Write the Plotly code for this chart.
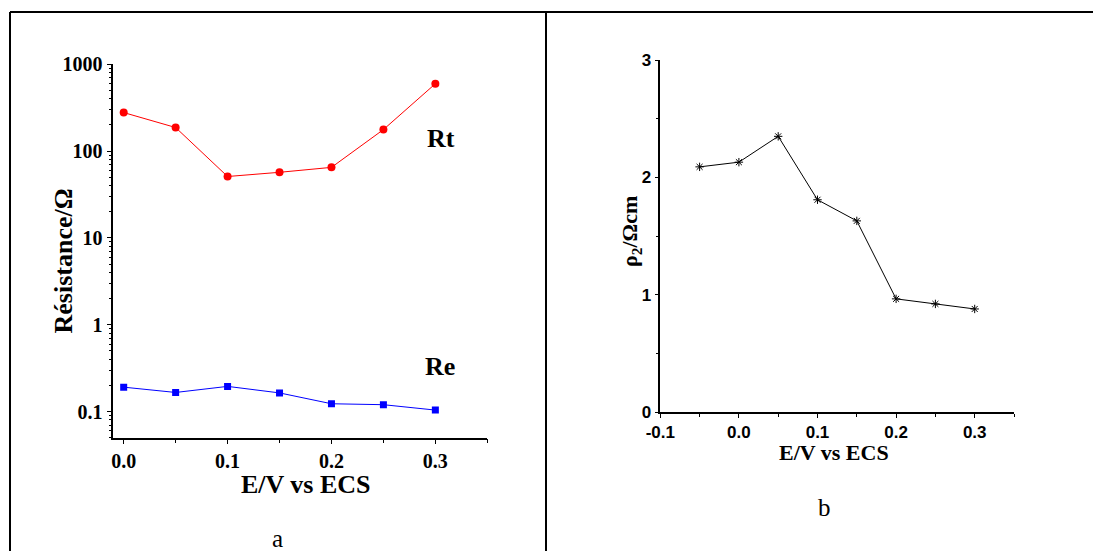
import plotly.graph_objects as go

# ---- data ----
E_a = [0.0, 0.05, 0.10, 0.15, 0.20, 0.25, 0.30]
Rt = [278, 187, 51, 57, 65, 177, 597]
Re = [0.191, 0.166, 0.195, 0.164, 0.123, 0.120, 0.104]

E_b = [-0.05, 0.0, 0.05, 0.10, 0.15, 0.20, 0.25, 0.30]
rho2 = [2.09, 2.13, 2.35, 1.81, 1.63, 0.966, 0.923, 0.88]

log_major = [0.1, 1, 10, 100, 1000]
log_major_text = ["0.1", "1", "10", "100", "1000"]

xb_ticks = [-0.1, 0.0, 0.1, 0.2, 0.3]
xb_ticktext = ["-0.1", "0.0", "0.1", "0.2", "0.3"]

W, H = 1093, 551
SERIF = "Liberation Serif"
SANS = "Liberation Sans"


def px(x):
    return x / W


def py(y):
    return 1 - y / H


log_minor = [m * 10 ** e for e in range(-2, 3) for m in range(2, 10)]
log_minor = [v for v in log_minor if 0.05 <= v <= 1000]

fig = go.Figure()

fig.add_trace(go.Scatter(
    x=E_a, y=Rt, mode="lines+markers", xaxis="x", yaxis="y",
    line=dict(color="#ff0000", width=1),
    marker=dict(symbol="circle", size=8, color="#ff0000"),
    showlegend=False))
fig.add_trace(go.Scatter(
    x=E_a, y=Re, mode="lines+markers", xaxis="x", yaxis="y",
    line=dict(color="#0000ff", width=1),
    marker=dict(symbol="square", size=7, color="#0000ff"),
    showlegend=False))
fig.add_trace(go.Scatter(
    x=E_b, y=rho2, mode="lines+markers", xaxis="x2", yaxis="y2",
    line=dict(color="#000000", width=1),
    marker=dict(symbol="asterisk-open", size=7, color="#000000",
                line=dict(color="#000000", width=1)),
    showlegend=False))

dom_xa = [px(113.3), px(487.3)]
dom_ya = [py(437.7), py(64.3)]
dom_xb = [px(660.3), px(1014)]
dom_yb = [py(412.3), py(60)]

axis_common = dict(showgrid=False, zeroline=False, showline=True,
                   linecolor="black", linewidth=1.5, tickcolor="black",
                   tickwidth=1.2, automargin=False)

layout = dict(
    template="none",
    width=W, height=H, autosize=False,
    margin=dict(l=0, r=0, t=0, b=0, pad=0, autoexpand=False),
    paper_bgcolor="white", plot_bgcolor="white",
    showlegend=False,
    # ---- panel a ----
    xaxis=dict(domain=dom_xa, anchor="y", range=[-0.01, 0.35],
               tick0=0, dtick=0.1, tickformat=".1f", ticks="outside",
               ticklen=5,
               minor=dict(tick0=0, dtick=0.05, ticks="outside", ticklen=4,
                          tickcolor="black", tickwidth=1.2),
               tickfont=dict(family=SERIF, size=20, color="black",
                             weight="bold"),
               **axis_common),
    yaxis=dict(domain=dom_ya, anchor="x", type="log",
               range=[-1.301, 3], tickmode="array", tickvals=log_major,
               ticktext=log_major_text, ticks="outside", ticklen=5,
               minor=dict(tickmode="array", tickvals=log_minor,
                          ticks="outside", ticklen=3, tickcolor="black",
                          tickwidth=1),
               tickfont=dict(family=SERIF, size=20, color="black",
                             weight="bold"),
               **axis_common),
    xaxis3=dict(overlaying="x", anchor="y", side="top",
                range=[-0.01, 0.35], tick0=0, dtick=0.05, ticks="inside",
                ticklen=4, showticklabels=False, **axis_common),
    yaxis3=dict(overlaying="y", anchor="x", side="right", type="log",
                range=[-1.301, 3], tickmode="array", tickvals=log_major,
                ticks="inside", ticklen=4, showticklabels=False,
                minor=dict(tickmode="array", tickvals=log_minor,
                           ticks="inside", ticklen=3, tickcolor="black",
                           tickwidth=1),
                **axis_common),
    # ---- panel b ----
    xaxis2=dict(domain=dom_xb, anchor="y2", range=[-0.1, 0.35],
                tickmode="array", tickvals=xb_ticks, ticktext=xb_ticktext,
                ticks="outside", ticklen=4,
                minor=dict(tick0=0, dtick=0.05, ticks="outside", ticklen=3,
                           tickcolor="black", tickwidth=1.2),
                tickfont=dict(family=SANS, size=17, color="black",
                              weight="bold"),
                **axis_common),
    yaxis2=dict(domain=dom_yb, anchor="x2", range=[0, 3], tick0=0,
                dtick=1, ticks="outside", ticklen=4,
                minor=dict(tick0=0, dtick=0.5, ticks="outside", ticklen=3,
                           tickcolor="black", tickwidth=1.2),
                tickfont=dict(family=SANS, size=17, color="black",
                              weight="bold"),
                **axis_common),
    xaxis4=dict(overlaying="x2", anchor="y2", side="top",
                range=[-0.1, 0.35], tick0=0, dtick=0.05, ticks="inside",
                ticklen=3, showticklabels=False, **axis_common),
    yaxis4=dict(overlaying="y2", anchor="x2", side="right",
                range=[0, 3], tick0=0, dtick=0.5, ticks="inside",
                ticklen=3, showticklabels=False, **axis_common),
)
fig.update_layout(**layout)

# frame lines around panels
frame = dict(type="line", xref="paper", yref="paper",
             line=dict(color="black", width=2))
fig.add_shape(x0=px(10), x1=1.0, y0=py(12), y1=py(12), **frame)
fig.add_shape(x0=px(10), x1=px(10), y0=py(12), y1=0, **frame)
fig.add_shape(x0=px(546), x1=px(546), y0=py(12), y1=0, **frame)

bold_serif = lambda s: dict(family=SERIF, size=s, color="black", weight="bold")
ann = dict(xref="paper", yref="paper", showarrow=False,
           xanchor="center", yanchor="middle")
fig.add_annotation(text="Rt", x=px(441), y=py(138), font=bold_serif(26), **ann)
fig.add_annotation(text="Re", x=px(440), y=py(366), font=bold_serif(26), **ann)
fig.add_annotation(text="Résistance/Ω", x=px(63), y=py(261.5),
                   textangle=-90, font=bold_serif(26), **ann)
fig.add_annotation(text="E/V vs ECS", x=px(306), y=py(484),
                   font=bold_serif(26), **ann)
fig.add_annotation(text="a", x=px(277.5), y=py(538),
                   font=dict(family=SERIF, size=25, color="black"), **ann)
fig.add_annotation(text="E/V vs ECS", x=px(834), y=py(452),
                   font=bold_serif(22), **ann)
fig.add_annotation(text="ρ<sub>2</sub>/Ωcm", x=px(631), y=py(232),
                   textangle=-90, font=bold_serif(22), **ann)
fig.add_annotation(text="b", x=px(824), y=py(507),
                   font=dict(family=SERIF, size=25, color="black"), **ann)

fig.write_html(
    "out.html",
    config={"displayModeBar": False},
    post_script="document.body.style.margin='0';"
                "document.body.style.overflow='hidden';")
